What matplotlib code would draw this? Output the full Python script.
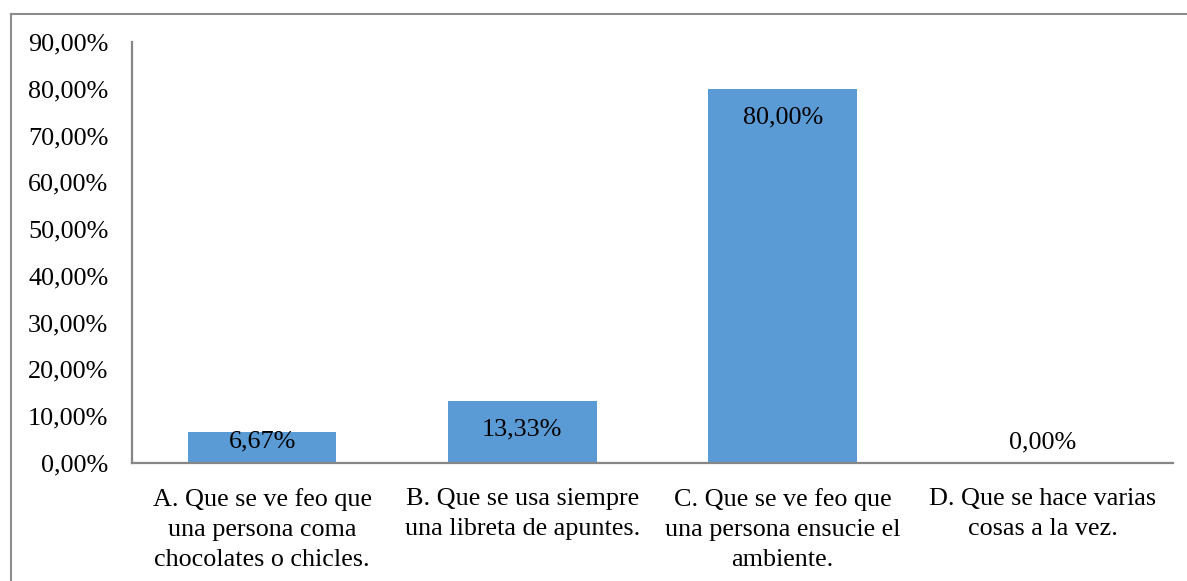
import matplotlib
matplotlib.use("Agg")
import matplotlib.pyplot as plt
from matplotlib.lines import Line2D

categories = [
    "A. Que se ve feo que\nuna persona coma\nchocolates o chicles.",
    "B. Que se usa siempre\nuna libreta de apuntes.",
    "C. Que se ve feo que\nuna persona ensucie el\nambiente.",
    "D. Que se hace varias\ncosas a la vez.",
]
values = [6.67, 13.33, 80.00, 0.00]
value_labels = ["6,67%", "13,33%", "80,00%", "0,00%"]
yticks = [0, 10, 20, 30, 40, 50, 60, 70, 80, 90]
ytick_labels = ["0,00%", "10,00%", "20,00%", "30,00%", "40,00%", "50,00%",
                "60,00%", "70,00%", "80,00%", "90,00%"]

plt.rcParams['font.family'] = ['Liberation Serif', 'DejaVu Serif']
FS = 18.8
W, H = 1187, 581
fig = plt.figure(figsize=(W / 100, H / 100), dpi=100)
ax = fig.add_axes([132 / W, 1 - 463 / H, (1173 - 132) / W, (463 - 42) / H])

x = list(range(len(categories)))
bars = ax.bar(x, values, width=0.57, color="#5B9BD5", zorder=2)
ax.set_xlim(-0.5, len(categories) - 0.5)
ax.set_ylim(0, 90)
ax.set_yticks(yticks)
ax.set_yticklabels(ytick_labels, fontsize=FS)
ax.set_xticks(x)
ax.set_xticklabels(categories, fontsize=FS, linespacing=1.48, va="top")
ax.tick_params(axis="y", length=0, pad=17)
ax.tick_params(axis="x", length=0, pad=18)

for s in ["top", "right"]:
    ax.spines[s].set_visible(False)
for s in ["left", "bottom"]:
    ax.spines[s].set_color("#868686")
    ax.spines[s].set_linewidth(1.6)

px_per_unit = (463 - 42) / 90.0
for xi, v, lab in zip(x, values, value_labels):
    hpx = v * px_per_unit
    if hpx <= 0.5:
        off = 21
    elif hpx < 60:
        off = -10
    else:
        off = -29
    ax.annotate(lab, (xi, v), xytext=(0, off * 72 / 100), textcoords="offset points",
                ha="center", va="center", fontsize=FS, color="black", zorder=3)

# outer frame (left and top edges visible)
lc = "#8c8c8c"
fig.add_artist(Line2D([11 / W, 11 / W], [0, 1 - 13.5 / H], transform=fig.transFigure,
                      color=lc, linewidth=1.5))
fig.add_artist(Line2D([11 / W, 1], [1 - 13.5 / H, 1 - 13.5 / H], transform=fig.transFigure,
                      color=lc, linewidth=1.5))

fig.savefig("out.png", dpi=100)
